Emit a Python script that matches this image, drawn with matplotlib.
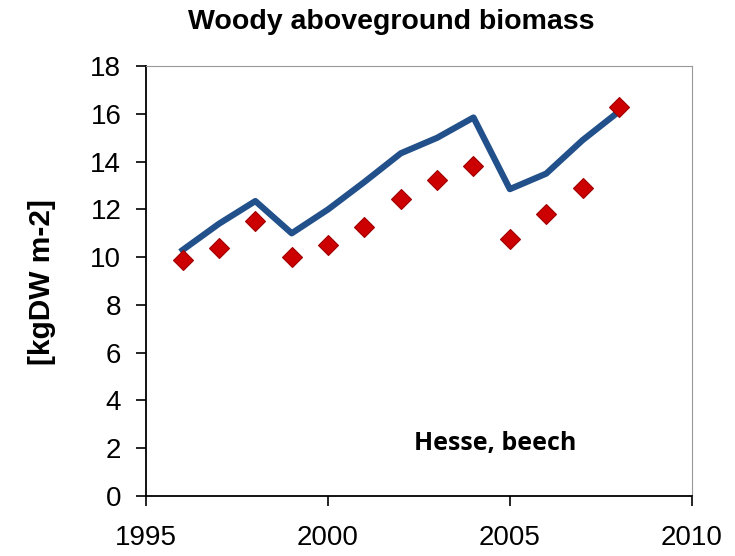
import matplotlib.pyplot as plt

years = list(range(1996, 2009))
modelled = [10.3, 11.4, 12.35, 11.0, 12.0, 13.15, 14.35, 15.0, 15.85, 12.85, 13.5, 14.9, 16.1]
observed = [9.9, 10.4, 11.5, 10.0, 10.5, 11.25, 12.45, 13.25, 13.8, 10.75, 11.8, 12.9, 16.3]

fig = plt.figure(figsize=(7.35, 5.56), dpi=100)
ax = fig.add_axes([0.199, 0.108, 0.742, 0.773])

ax.plot(years, modelled, color="#22508a", lw=4.5, zorder=2)
ax.plot(years, observed, "D", color="#cc0000", ms=10, mec="#a00000", mew=0.8, ls="none", zorder=3)

ax.set_xlim(1995, 2010)
ax.set_ylim(0, 18)
ax.set_xticks([1995, 2000, 2005, 2010])
ax.set_yticks(range(0, 19, 2))

for lab in ax.get_xticklabels() + ax.get_yticklabels():
    lab.set_family("Liberation Sans")
    lab.set_fontsize(20)
ax.tick_params(axis="both", direction="out", length=7, width=1.2, color="black")
ax.tick_params(axis="x", pad=14)
ax.tick_params(axis="y", pad=11)

ax.spines["left"].set_color("black")
ax.spines["bottom"].set_color("black")
ax.spines["left"].set_linewidth(1.3)
ax.spines["bottom"].set_linewidth(1.3)
ax.spines["top"].set_color("#999999")
ax.spines["right"].set_color("#999999")

fig.text(0.532, 0.96, "Woody aboveground biomass", ha="center", va="center",
         fontsize=20.5, fontweight="bold", family="Liberation Sans")
fig.text(0.057, 0.492, "[kgDW m-2]", ha="center", va="center", rotation=90,
         fontsize=21.5, fontweight="bold", family="Liberation Sans")
ax.text(2004.6, 2.2, "Hesse, beech", ha="center", va="center", fontsize=18,
        fontweight="bold", family="Open Sans")

plt.savefig("out.png", dpi=100)
